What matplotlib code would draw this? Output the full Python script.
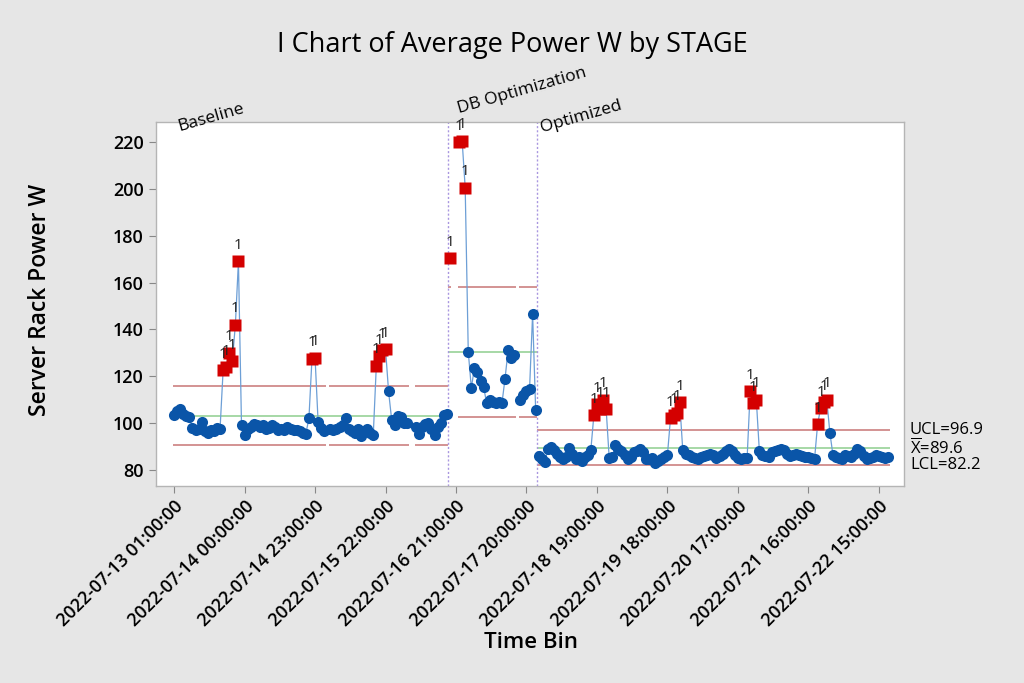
import numpy as np
import matplotlib.pyplot as plt

nan = np.nan

# hourly averages, one list per stage (nan = missing hour)
stages = ["Baseline", "DB Optimization", "Optimized"]
baseline = [103.5, 105, 106, 104, 103, 102.5, 98, 97, 97.5, 100.5,
            96.5, 96, 97, 96.5, 98, 97.5, 122.5, 124, 130, 126.5,
            142, 169, 99, 95, 97.5, 98.5, 99.5, 99, 98.5, 99,
            97.5, 98, 99, 98.5, 97, 97.5, 97, 98.5, 97.5, 97,
            97, 96.5, 96, 95.5, 102, 127.5, 128, 100.5, 98, 96.5,
            nan, 97.5, 97, 97.5, 98.5, 99, 102, 97.5, 96.5, 96,
            97.5, 94.5, 96.5, 97.5, 96, 95, 124.5, 128.5, 131, 131.5,
            113.5, 101.5, 99, 103, 102.5, 100, 100, nan, nan, 98.5,
            95.5, 98.5, 99.5, 100, 97.5, 95, 98.5, 100, 103.5, 104]
db_opt = [170.5, nan, nan, 220, 220.5, 200.5, 130.5, 115, 123.5, 122,
          118, 115.5, 108.5, 110, 109, 108.5, 109, 108.5, 119, 131,
          128, 129, nan, 110, 112, 113.5, 114.5, 146.5, 105.5]
optimized = [86, 84.5, 83.5, 89, 90, 88.5, 87, 85.5, 84.5, 85.5,
             89.5, 87, 84.5, 85.5, 84, 85.5, 86.5, 88.5, 103.5, 108,
             106, 110, 106, 85, 85.5, 90.5, 89, 88, 86.5, 84.5,
             85.5, 87.5, 88, 89, 87.5, 84.5, 84.5, 85, 83, 84,
             84.5, 85.5, 86.5, 102, 103.5, 104.5, 109, 88.5, 87, 86.5,
             85.5, 85, 84.5, 85.5, 86, 86.5, 87, 86.5, 85, 86,
             87, 88, 89, 88, 86.5, 85, 84.5, 85, 85, 113.5,
             108.5, 110, 88, 86.5, 86, 85.5, 87.5, 88, 88.5, 89,
             88.5, 87, 86, 86.5, 87, 86.5, 86, 85.5, 85.5, 85,
             84.5, 99.5, 106.5, 109, 110, 96, 86.5, 85.5, 85, 84.5,
             86.5, 86, 85.5, 87, 89, 88, 86, 84.5, 85, 85.5,
             86.5, 86, 85.5, 85, 85.5]
ucl = [115.7, 157.9, 96.9]
center = [103.1, 130.3, 89.6]
lcl = [90.5, 102.7, 82.2]

tick_labels = ["2022-07-13 01:00:00", "2022-07-14 00:00:00", "2022-07-14 23:00:00",
               "2022-07-15 22:00:00", "2022-07-16 21:00:00", "2022-07-17 20:00:00",
               "2022-07-18 19:00:00", "2022-07-19 18:00:00", "2022-07-20 17:00:00",
               "2022-07-21 16:00:00", "2022-07-22 15:00:00"]
tick_step = 23

plt.rcParams['font.family'] = ['Open Sans', 'DejaVu Sans']
plt.rcParams['mathtext.fontset'] = 'custom'
plt.rcParams['mathtext.rm'] = 'Open Sans'

BLUE = "#0a55a8"
RED = "#d40000"
LINE = "#6d9fd6"
LIMIT = "#d08a8a"
CL_COL = "#9fd69f"
STAGE_COL = "#a997e0"

fig = plt.figure(figsize=(10.24, 6.83), dpi=100, facecolor="#e6e6e6")
ax = fig.add_axes([155.7 / 1024, 1 - 485.7 / 683, 748.3 / 1024, 363.7 / 683])
ax.set_facecolor("white")

start = 0
for k, vals in enumerate([baseline, db_opt, optimized]):
    v = np.array(vals, dtype=float)
    idx = np.arange(start, start + len(v))
    ok = ~np.isnan(v)
    # limit lines, broken where an hour is missing
    runs = []
    i = 0
    while i < len(v):
        if ok[i]:
            j = i
            while j + 1 < len(v) and ok[j + 1]:
                j += 1
            runs.append((idx[i] - 0.5, idx[j] + 0.5))
            i = j + 1
        else:
            i += 1
    for a, b in runs:
        ax.hlines([ucl[k], lcl[k]], a, b, color=LIMIT, lw=1.3, zorder=1)
    ax.hlines(center[k], idx[0] - 0.5, idx[-1] + 0.5, color=CL_COL, lw=1.3, zorder=1)

    ax.plot(idx, v, color=LINE, lw=0.9, zorder=2)
    out = ok & ((v > ucl[k]) | (v < lcl[k]))
    inn = ok & ~out
    ax.plot(idx[inn], v[inn], "o", color=BLUE, ms=8, mec="none", zorder=3)
    ax.plot(idx[out], v[out], "s", color=RED, ms=9, mec="none", zorder=4)
    for xi, yi in zip(idx[out], v[out]):
        ax.annotate("1", (xi, yi), xytext=(0, 6), textcoords="offset points",
                    ha="center", va="bottom", fontsize=11, color="#222222", zorder=5)
    if k > 0:
        ax.axvline(start - 0.5, color=STAGE_COL, lw=1, ls=(0, (1.5, 1.5)), zorder=1)
    start += len(v)

ax.set_xlim(-6, 238.2)
ax.set_ylim(73.3, 228.5)
ax.set_yticks(np.arange(80, 221, 20))
ax.set_xticks(np.arange(len(tick_labels)) * tick_step)
ax.set_xticklabels(tick_labels, rotation=45, ha="right", rotation_mode="anchor")
ax.tick_params(axis="both", labelsize=13, color="#888888", length=5, width=0.8)
for lab in ax.get_xticklabels() + ax.get_yticklabels():
    lab.set_fontweight("semibold")
for s in ax.spines.values():
    s.set_color("#b5b5b5")
    s.set_linewidth(1)

ax.set_ylabel("Server Rack Power W", fontsize=16.5, fontweight="semibold")
ax.yaxis.label.set_va("center")
ax.yaxis.set_label_coords(-(155.7 - 40) / 748.3, (485.7 - 300) / 363.7)
ax.set_xlabel("Time Bin", fontsize=16, fontweight="semibold")
ax.xaxis.label.set_va("center")
ax.xaxis.set_label_coords((531 - 155.7) / 748.3, -(643 - 485.7) / 363.7)
fig.text(0.5, 1 - 45 / 683, "I Chart of Average Power W by STAGE",
         ha="center", va="center", fontsize=19.5)

# stage names, tilted above the plot
fig.text(179 / 1024, 1 - 131 / 683, stages[0], rotation=16, fontsize=12.5,
         rotation_mode="anchor", ha="left", va="baseline")
fig.text(459 / 1024, 1 - 113 / 683, stages[1], rotation=16, fontsize=12.5,
         rotation_mode="anchor", ha="left", va="baseline")
fig.text(542 / 1024, 1 - 132 / 683, stages[2], rotation=16, fontsize=12.5,
         rotation_mode="anchor", ha="left", va="baseline")

tr = ax.get_yaxis_transform()
ax.text(1.008, ucl[2], f"UCL={ucl[2]}", transform=tr, va="center", fontsize=12)
ax.text(1.008, center[2], r"$\overline{\mathrm{X}}$" + f"={center[2]}", transform=tr,
        va="center", fontsize=12)
ax.text(1.008, lcl[2], f"LCL={lcl[2]}", transform=tr, va="center", fontsize=12)

fig.savefig("out.png", dpi=100, facecolor=fig.get_facecolor())
